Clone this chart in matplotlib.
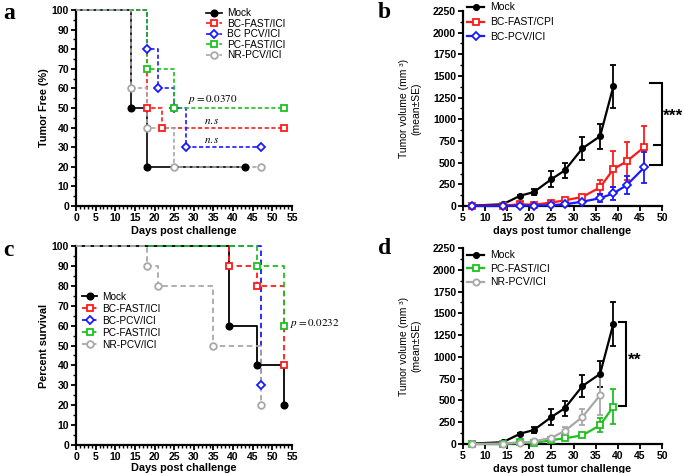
import matplotlib
matplotlib.use("Agg")
import matplotlib.pyplot as plt
from matplotlib.ticker import MultipleLocator
from matplotlib.lines import Line2D
import numpy as np

plt.rcParams['font.family'] = ['Liberation Sans', 'DejaVu Sans']
plt.rcParams['mathtext.fontset'] = 'stix'

# ---------------- Data ----------------
groups_km = ["Mock", "BC-FAST/ICI", "BC PCV/ICI", "PC-FAST/ICI", "NR-PCV/ICI"]
groups_km_c = ["Mock", "BC-FAST/ICI", "BC-PCV/ICI", "PC-FAST/ICI", "NR-PCV/ICI"]

# Panel a: tumor free (%)
a_mock_t = [0, 14, 18, 43]
a_mock_v = [100, 50, 20, 20]
a_bcfast_t = [0, 18, 22, 53]
a_bcfast_v = [100, 50, 40, 40]
a_bcpcv_t = [0, 18, 21, 25, 28, 47]
a_bcpcv_v = [100, 80, 60, 50, 30, 30]
a_pcfast_t = [0, 18, 25, 53]
a_pcfast_v = [100, 70, 50, 50]
a_nrpcv_t = [0, 14, 18, 25, 47]
a_nrpcv_v = [100, 60, 40, 20, 20]

# Panel c: percent survival
c_mock_t = [0, 39, 46, 53]
c_mock_v = [100, 60, 40, 20]
c_bcfast_t = [0, 39, 46, 53]
c_bcfast_v = [100, 90, 80, 40]
c_bcpcv_t = [0, 47]
c_bcpcv_v = [100, 30]
c_pcfast_t = [0, 46, 53]
c_pcfast_v = [100, 90, 60]
c_nrpcv_t = [0, 18, 21, 35, 47]
c_nrpcv_v = [100, 90, 80, 50, 20]

# Panels b/d: tumor volume
mock_days = [7, 14, 18, 21, 25, 28, 32, 36, 39]
mock_vol = [5, 20, 120, 160, 310, 410, 665, 805, 1380]
mock_se = [5, 8, 12, 35, 95, 87, 130, 145, 250]

bcfast_days = [7, 14, 18, 21, 25, 28, 32, 36, 39, 42, 46]
bcfast_vol = [5, 5, 20, 15, 40, 65, 105, 215, 425, 515, 680]
bcfast_se = [3, 3, 8, 8, 12, 15, 20, 80, 210, 220, 245]

bcpcv_days = [7, 14, 18, 21, 25, 28, 32, 36, 39, 42, 46]
bcpcv_vol = [0, 0, 5, 5, 10, 20, 50, 90, 145, 240, 445]
bcpcv_se = [2, 2, 3, 3, 5, 8, 20, 45, 70, 105, 180]

pcfast_days = [7, 14, 18, 21, 25, 28, 32, 36, 39]
pcfast_vol = [0, 0, 20, 10, 45, 65, 100, 215, 430]
pcfast_se = [2, 2, 5, 5, 10, 15, 25, 80, 200]

nrpcv_days = [7, 14, 18, 21, 25, 28, 32, 36]
nrpcv_vol = [0, 5, 10, 30, 70, 150, 310, 560]
nrpcv_se = [2, 3, 5, 10, 15, 40, 95, 230]

# ---------------- Styles ----------------
BLACK = "#000000"
RED = "#ff1a1a"
BLUE = "#1a1aff"
GREEN = "#1ec21e"
GREY = "#a8a8a8"

fig = plt.figure(figsize=(6.85, 4.73), dpi=100)

ax_a = fig.add_axes([76/685, 1-206/473, 216/685, 196/473])
ax_b = fig.add_axes([463/685, 1-206/473, 199/685, 195/473])
ax_c = fig.add_axes([76/685, 1-445/473, 216/685, 199/473])
ax_d = fig.add_axes([463/685, 1-444/473, 199/685, 196/473])

TICKFS = 7.5
LABFS = 7.8


def style_axes(ax):
    for s in ['top', 'right']:
        ax.spines[s].set_visible(False)
    for s in ['left', 'bottom']:
        ax.spines[s].set_linewidth(1.6)
    ax.tick_params(which='major', direction='out', length=3.5, width=1.3,
                   labelsize=TICKFS, pad=1.5)
    ax.tick_params(which='minor', direction='out', length=2, width=1.0)
    for lab in ax.get_xticklabels() + ax.get_yticklabels():
        lab.set_fontweight('bold')


def km(ax, t, v, color, marker, ls, label, mfc='white', lw=1.2, ms=4.8):
    ax.step(t, v, where='post', color=color, lw=lw, ls=ls, clip_on=False, zorder=3)
    ax.plot(t[1:], v[1:], ls='none', marker=marker, color=color, mfc=mfc,
            mec=color, mew=1.3, ms=ms, clip_on=False, zorder=4)
    ax.plot([], [], color=color, ls=ls, lw=lw, marker=marker, mfc=mfc, mec=color,
            mew=1.3, ms=ms, label=label)


DASH_A = (0, (2.5, 1.5))
DASH_C = (0, (3, 2))

# ---------------- Panel a ----------------
ax = ax_a
km(ax, a_mock_t, a_mock_v, BLACK, 'o', '-', groups_km[0], mfc=BLACK, ms=4.5)
km(ax, a_bcfast_t, a_bcfast_v, RED, 's', DASH_A, groups_km[1])
km(ax, a_bcpcv_t, a_bcpcv_v, BLUE, 'D', DASH_A, groups_km[2], ms=4)
km(ax, a_pcfast_t, a_pcfast_v, GREEN, 's', DASH_A, groups_km[3])
km(ax, a_nrpcv_t, a_nrpcv_v, GREY, 'o', DASH_A, groups_km[4])
ax.set_xlim(0, 55)
ax.set_ylim(0, 100)
ax.xaxis.set_major_locator(MultipleLocator(5))
ax.xaxis.set_minor_locator(MultipleLocator(1))
ax.yaxis.set_major_locator(MultipleLocator(10))
ax.yaxis.set_minor_locator(MultipleLocator(5))
style_axes(ax)
ax.set_xlabel("Days post challenge", fontsize=LABFS, fontweight='bold', labelpad=2)
ax.set_ylabel("Tumor Free (%)", fontsize=LABFS, fontweight='bold', labelpad=2)
ax.legend(loc='upper left', bbox_to_anchor=(0.585, 1.03), frameon=False, fontsize=7.3,
          handlelength=1.5, handletextpad=0.5, labelspacing=0.05, borderaxespad=0)
ax.text(28.5, 51, r"$p = 0.0370$", fontsize=8, ha='left', va='bottom')
ax.text(32.5, 41, r"$n.s$", fontsize=8, ha='left', va='bottom')
ax.text(32.5, 31, r"$n.s$", fontsize=8, ha='left', va='bottom')

# ---------------- Panel c ----------------
ax = ax_c
km(ax, c_mock_t, c_mock_v, BLACK, 'o', '-', groups_km_c[0], mfc=BLACK, ms=4.5, lw=1.3)
km(ax, c_bcfast_t, c_bcfast_v, RED, 's', DASH_C, groups_km_c[1], lw=1.3)
km(ax, c_bcpcv_t, c_bcpcv_v, BLUE, 'D', DASH_C, groups_km_c[2], ms=4, lw=1.3)
km(ax, c_pcfast_t, c_pcfast_v, GREEN, 's', DASH_C, groups_km_c[3], lw=1.3)
km(ax, c_nrpcv_t, c_nrpcv_v, GREY, 'o', DASH_C, groups_km_c[4], lw=1.3)
ax.set_xlim(0, 55)
ax.set_ylim(0, 100)
ax.xaxis.set_major_locator(MultipleLocator(5))
ax.xaxis.set_minor_locator(MultipleLocator(1))
ax.yaxis.set_major_locator(MultipleLocator(10))
ax.yaxis.set_minor_locator(MultipleLocator(5))
style_axes(ax)
ax.set_xlabel("Days post challenge", fontsize=LABFS, fontweight='bold', labelpad=0.5)
ax.set_ylabel("Percent survival", fontsize=LABFS, fontweight='bold', labelpad=2)
ax.legend(loc='upper left', bbox_to_anchor=(0.01, 0.79), frameon=False, fontsize=7.3,
          handlelength=1.5, handletextpad=0.5, labelspacing=0.2, borderaxespad=0)
ax.text(54.5, 61, r"$p = 0.0232$", fontsize=8, ha='left', va='center')


# ---------------- Panels b, d ----------------
def growth(ax, x, y, e, color, marker, label, mfc='white', ms=4.5, lw=1.6):
    ax.errorbar(x, y, yerr=e, color=color, lw=lw, marker=marker, ms=ms, mfc=mfc,
                mec=color, mew=1.3, capsize=2.5, elinewidth=1.3, capthick=1.3,
                clip_on=False, zorder=3)
    h = Line2D([], [], color=color, lw=lw, marker=marker, ms=ms, mfc=mfc, mec=color,
               mew=1.3, label=label)
    return h


def vol_axes(ax):
    ax.set_xlim(5, 50)
    ax.set_ylim(0, 2250)
    ax.xaxis.set_major_locator(MultipleLocator(5))
    ax.yaxis.set_major_locator(MultipleLocator(250))
    ax.yaxis.set_minor_locator(MultipleLocator(125))
    style_axes(ax)
    ax.set_xlabel("days post tumor challenge", fontsize=LABFS, fontweight='bold', labelpad=2)
    ax.set_ylabel("Tumor volume (mm \u00b3)\n(mean\u00b1SE)", fontsize=7.5, labelpad=8,
                  linespacing=1.3)


ax = ax_b
hb = [growth(ax, mock_days, mock_vol, mock_se, BLACK, 'o', "Mock", mfc=BLACK, ms=3.8),
      growth(ax, bcfast_days, bcfast_vol, bcfast_se, RED, 's', "BC-FAST/CPI"),
      growth(ax, bcpcv_days, bcpcv_vol, bcpcv_se, BLUE, 'D', "BC-PCV/ICI", ms=4)]
vol_axes(ax)
ax.legend(handles=hb, loc='upper left', bbox_to_anchor=(0.0, 1.065), frameon=False,
          fontsize=7.5, handlelength=1.6, handletextpad=0.6, labelspacing=0.45,
          borderaxespad=0)
bx = [47.2, 49.9, 49.9, 47.2]
by = [1420, 1420, 473, 473]
ax.plot(bx, by, color=BLACK, lw=1.5, clip_on=False, solid_joinstyle='miter')
ax.plot([48.2, 49.9], [705, 705], color=BLACK, lw=1.5, clip_on=False)
ax.text(50.3, 1040, "***", fontsize=12.5, fontweight='bold', ha='left', va='center')

ax = ax_d
hd = [growth(ax, mock_days, mock_vol, mock_se, BLACK, 'o', "Mock", mfc=BLACK, ms=3.8),
      growth(ax, pcfast_days, pcfast_vol, pcfast_se, GREEN, 's', "PC-FAST/ICI"),
      growth(ax, nrpcv_days, nrpcv_vol, nrpcv_se, GREY, 'o', "NR-PCV/ICI")]
vol_axes(ax)
ax.legend(handles=hd, loc='upper left', bbox_to_anchor=(0.0, 1.01), frameon=False,
          fontsize=7.5, handlelength=1.6, handletextpad=0.6, labelspacing=0.35,
          borderaxespad=0)
dx = [40.2, 41.9, 41.9, 40.2]
dy = [1400, 1400, 441, 441]
ax.plot(dx, dy, color=BLACK, lw=1.5, solid_joinstyle='miter')
ax.text(42.3, 960, "**", fontsize=12.5, fontweight='bold', ha='left', va='center')

# Panel letters
for lbl, (x, y) in zip("abcd", [(3, 3), (378, 2), (3, 240), (378, 238)]):
    fig.text(x/685, 1-y/473, lbl, fontsize=17, fontweight='bold',
             family=['Liberation Serif', 'DejaVu Serif'], ha='left', va='top')

fig.savefig("out.png", dpi=100)
